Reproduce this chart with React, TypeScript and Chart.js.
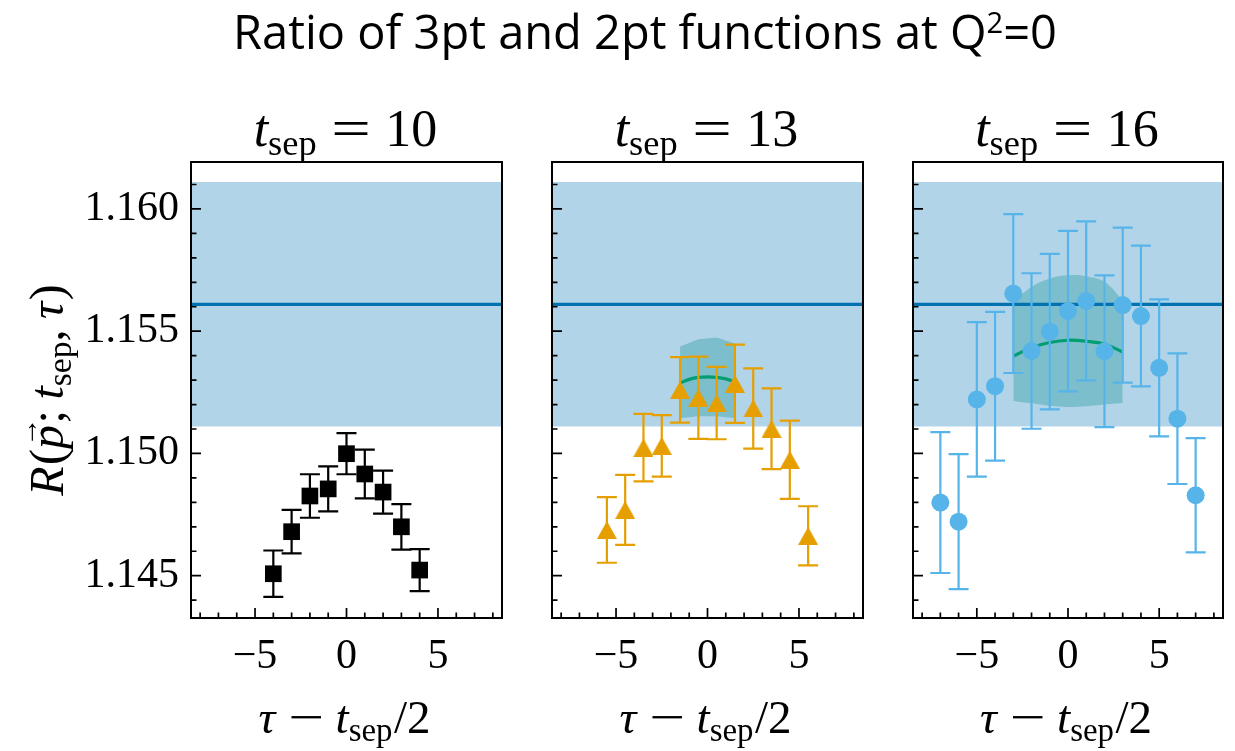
import { useEffect, useRef } from "react";
import { Chart, registerables } from "chart.js";

Chart.register(...registerables);

const SERIF = '"Liberation Serif", "DejaVu Serif", serif';

// Shared axis limits
const Y_MIN = 1.14327;
const Y_MAX = 1.16192;
const X_MIN = -8.5;
const X_MAX = 8.5;

const yTickValues = [1.145, 1.15, 1.155, 1.16];
const yTickLabels = ["1.145", "1.150", "1.155", "1.160"];
const xTickValues = [-5, 0, 5];
const xTickLabels = ["\u22125", "0", "5"];

// Plateau fit result (band = mean +/- error)
const plateauMean = 1.1561;
const plateauErr = 0.005;

// t_sep = 10
const tsep10Tau = [-4, -3, -2, -1, 0, 1, 2, 3, 4];
const tsep10Ratio = [1.14508, 1.1468, 1.14826, 1.14855, 1.14999, 1.14916, 1.14842, 1.147, 1.14523];
const tsep10Err = [0.00095, 0.00089, 0.00089, 0.00092, 0.00084, 0.001, 0.00088, 0.00093, 0.00086];

// t_sep = 13
const tsep13Tau = [-5.5, -4.5, -3.5, -2.5, -1.5, -0.5, 0.5, 1.5, 2.5, 3.5, 4.5, 5.5];
const tsep13Ratio = [1.14687, 1.14769, 1.15024, 1.15031, 1.1526, 1.15228, 1.15206, 1.15285, 1.15184, 1.15101, 1.14974, 1.14663];
const tsep13Err = [0.00134, 0.00143, 0.00138, 0.00126, 0.00134, 0.00168, 0.00148, 0.0016, 0.00164, 0.00165, 0.0016, 0.00121];

// t_sep = 16
const tsep16Tau = [-7, -6, -5, -4, -3, -2, -1, 0, 1, 2, 3, 4, 5, 6, 7];
const tsep16Ratio = [1.14799, 1.14721, 1.15221, 1.15275, 1.15654, 1.15419, 1.15498, 1.15582, 1.15624, 1.15418, 1.15607, 1.15562, 1.1535, 1.15142, 1.14829];
const tsep16Err = [0.00288, 0.00276, 0.00316, 0.00304, 0.00325, 0.00318, 0.00318, 0.00328, 0.00325, 0.0031, 0.00317, 0.00288, 0.0028, 0.00267, 0.00234];

// Two-state fit curves and their error bands
const fit13BandTau = [-1.5, -0.5, 0.5, 1.5];
const fit13Upper = [1.15437, 1.15467, 1.15474, 1.1545];
const fit13Lower = [1.15144, 1.15152, 1.15152, 1.15144];
const fit13CurveTau = [-1.5, -1, -0.5, 0, 0.5, 1, 1.5];
const fit13Curve = [1.15288, 1.15303, 1.15311, 1.15313, 1.15311, 1.15305, 1.15293];

const fit16Tau = [-3, -2, -1, 0, 1, 2, 3];
const fit16Upper = [1.1562, 1.15681, 1.15716, 1.15729, 1.15725, 1.15702, 1.15627];
const fit16Lower = [1.15215, 1.15205, 1.15195, 1.1519, 1.15193, 1.152, 1.15206];
const fit16Curve = [1.15398, 1.15433, 1.15454, 1.15463, 1.15459, 1.15447, 1.15415];

const BLACK = "#000000";
const ORANGE = "#e69f00";
const SKY = "#56b4e9";
const PLATEAU_BLUE = "#0072b2";
const FIT_GREEN = "#009e73";

const toPoints = (xs: number[], ys: number[]) => xs.map((x, i) => ({ x, y: ys[i] }));

type Marker = "rect" | "triangle" | "circle";

type PanelSpec = {
  tsep: string;
  tau: number[];
  ratio: number[];
  err: number[];
  color: string;
  marker: Marker;
  bandTau?: number[];
  bandUpper?: number[];
  bandLower?: number[];
  bandTension?: number;
  curveTau?: number[];
  curve?: number[];
  showYTicks: boolean;
};

type Frame = { left: number; width: number; yAxisWidth: number; padRight: number };

const panels: PanelSpec[] = [
  { tsep: "10", tau: tsep10Tau, ratio: tsep10Ratio, err: tsep10Err, color: BLACK, marker: "rect", showYTicks: true },
  {
    tsep: "13", tau: tsep13Tau, ratio: tsep13Ratio, err: tsep13Err, color: ORANGE, marker: "triangle",
    bandTau: fit13BandTau, bandUpper: fit13Upper, bandLower: fit13Lower, bandTension: 0,
    curveTau: fit13CurveTau, curve: fit13Curve, showYTicks: false,
  },
  {
    tsep: "16", tau: tsep16Tau, ratio: tsep16Ratio, err: tsep16Err, color: SKY, marker: "circle",
    bandTau: fit16Tau, bandUpper: fit16Upper, bandLower: fit16Lower, bandTension: 0.4,
    curveTau: fit16Tau, curve: fit16Curve, showYTicks: false,
  },
];

const frames: Frame[] = [
  { left: 0, width: 520, yAxisWidth: 191, padRight: 18 },
  { left: 520, width: 360, yAxisWidth: 32, padRight: 17 },
  { left: 880, width: 355, yAxisWidth: 33, padRight: 12 },
];

const CANVAS_H = 751;
const PLOT_TOP = 162;
const X_AXIS_H = 133;

function triangleImage(color: string) {
  const c = document.createElement("canvas");
  c.width = 20;
  c.height = 18;
  const g = c.getContext("2d")!;
  g.fillStyle = color;
  g.beginPath();
  g.moveTo(10, 0);
  g.lineTo(20, 18);
  g.lineTo(0, 18);
  g.closePath();
  g.fill();
  return c;
}

// Vertical error bars with caps, drawn just beneath the marker dataset
const errorBarPlugin = {
  id: "errorBars",
  beforeDatasetDraw(chart: any, args: any) {
    const ds = chart.data.datasets[args.index];
    if (!ds.errorBars) return;
    const xs = chart.scales.x;
    const ys = chart.scales.y;
    const ctx = chart.ctx;
    ctx.save();
    ctx.strokeStyle = ds.errorBarColor;
    ctx.lineWidth = 2.2;
    ds.data.forEach((p: { x: number; y: number }, i: number) => {
      const e = ds.errorBars[i];
      const px = xs.getPixelForValue(p.x);
      const top = ys.getPixelForValue(p.y + e);
      const bot = ys.getPixelForValue(p.y - e);
      ctx.beginPath();
      ctx.moveTo(px, top);
      ctx.lineTo(px, bot);
      ctx.moveTo(px - 10, top);
      ctx.lineTo(px + 10, top);
      ctx.moveTo(px - 10, bot);
      ctx.lineTo(px + 10, bot);
      ctx.stroke();
    });
    ctx.restore();
  },
};

// Axes box with inward major/minor ticks on the left and bottom
const framePlugin = {
  id: "frameTicks",
  afterDatasetsDraw(chart: any) {
    const { ctx, chartArea } = chart;
    const xs = chart.scales.x;
    const ys = chart.scales.y;
    const { left, right, top, bottom } = chartArea;
    ctx.save();
    ctx.strokeStyle = "#000";
    ctx.lineWidth = 1.7;
    ctx.beginPath();
    for (let k = 1144; k <= 1161; k++) {
      const py = ys.getPixelForValue(k / 1000);
      if (py < top || py > bottom) continue;
      const len = k % 5 === 0 ? 10 : 5.5;
      ctx.moveTo(left, py);
      ctx.lineTo(left + len, py);
    }
    for (let k = -8; k <= 8; k++) {
      const px = xs.getPixelForValue(k);
      const len = k % 5 === 0 ? 10 : 5.5;
      ctx.moveTo(px, bottom);
      ctx.lineTo(px, bottom - len);
    }
    ctx.stroke();
    ctx.lineWidth = 2;
    ctx.strokeRect(left, top, right - left, bottom - top);
    ctx.restore();
  },
};

// A piece of mixed-style math text; sx widens a glyph horizontally
type Run = {
  text: string;
  size: number;
  italic?: boolean;
  dy?: number;
  before?: number;
  after?: number;
  arrow?: boolean;
  sx?: number;
};

const fontOf = (r: Run) => `${r.italic ? "italic " : ""}${r.size}px ${SERIF}`;

function runWidth(ctx: CanvasRenderingContext2D, r: Run) {
  ctx.font = fontOf(r);
  return ctx.measureText(r.text).width * (r.sx || 1);
}

function runsWidth(ctx: CanvasRenderingContext2D, runs: Run[]) {
  let w = 0;
  for (const r of runs) w += (r.before || 0) + runWidth(ctx, r) + (r.after || 0);
  return w;
}

function drawRuns(ctx: CanvasRenderingContext2D, runs: Run[], cx: number, baseline: number) {
  let x = cx - runsWidth(ctx, runs) / 2;
  ctx.textBaseline = "alphabetic";
  ctx.textAlign = "left";
  for (const r of runs) {
    x += r.before || 0;
    const w = runWidth(ctx, r);
    ctx.font = fontOf(r);
    ctx.save();
    ctx.translate(x, baseline + (r.dy || 0));
    ctx.scale(r.sx || 1, 1);
    ctx.fillText(r.text, 0, 0);
    ctx.restore();
    if (r.arrow) {
      const a = r.size * 0.6;
      ctx.font = `${a}px ${SERIF}`;
      const aw = ctx.measureText("\u2192").width;
      ctx.fillText("\u2192", x + w / 2 - aw / 2 + r.size * 0.1, baseline - r.size * 0.55);
    }
    x += w + (r.after || 0);
  }
}

// Panel title, x-axis label and (first panel only) y-axis label
const labelPlugin = {
  id: "panelText",
  afterDraw(chart: any, _args: any, opts: any) {
    const { ctx, chartArea } = chart;
    const cx = (chartArea.left + chartArea.right) / 2;
    ctx.save();
    ctx.fillStyle = "#000";
    const T = 52;
    drawRuns(ctx, [
      { text: "t", size: T, italic: true },
      { text: "sep", size: T * 0.7, dy: T * 0.17 },
      { text: "=", size: T, sx: 1.35, before: T * 0.28, after: T * 0.28 },
      { text: opts.tsep, size: T },
    ], cx - 1, 146);

    const L = 47;
    drawRuns(ctx, [
      { text: "\u03c4", size: L, italic: true, after: L * 0.04 },
      { text: "\u2212", size: L, sx: 1.35, before: L * 0.24, after: L * 0.24 },
      { text: "t", size: L, italic: true },
      { text: "sep", size: L * 0.7, dy: L * 0.17 },
      { text: "/2", size: L, before: L * 0.03 },
    ], cx - 2, 733);

    if (opts.yLabel) {
      const cy = (chartArea.top + chartArea.bottom) / 2;
      const Y = 48;
      ctx.translate(63, cy);
      ctx.rotate(-Math.PI / 2);
      drawRuns(ctx, [
        { text: "R", size: Y, italic: true, after: Y * 0.03 },
        { text: "(", size: Y },
        { text: "p", size: Y, italic: true, arrow: true, after: Y * 0.03 },
        { text: ";", size: Y, after: Y * 0.22 },
        { text: "t", size: Y, italic: true },
        { text: "sep", size: Y * 0.7, dy: Y * 0.17 },
        { text: ",", size: Y, after: Y * 0.22 },
        { text: "\u03c4", size: Y, italic: true, after: Y * 0.03 },
        { text: ")", size: Y },
      ], 0, 0);
    }
    ctx.restore();
  },
};

function Panel({ spec, frame }: { spec: PanelSpec; frame: Frame }) {
  const ref = useRef<HTMLCanvasElement | null>(null);

  useEffect(() => {
    if (!ref.current) return;
    const markerStyle: any = spec.marker === "triangle" ? triangleImage(spec.color) : spec.marker;
    const markerRadius = spec.marker === "rect" ? 11.8 : spec.marker === "circle" ? 9 : 10;

    const datasets: any[] = [
      {
        type: "scatter",
        data: toPoints(spec.tau, spec.ratio),
        pointStyle: markerStyle,
        pointRadius: markerRadius,
        backgroundColor: spec.color,
        borderWidth: 0,
        errorBars: spec.err,
        errorBarColor: spec.color,
        order: 0,
      },
    ];
    if (spec.curveTau && spec.curve) {
      datasets.push({
        type: "line",
        data: toPoints(spec.curveTau, spec.curve),
        showLine: true,
        borderColor: FIT_GREEN,
        borderWidth: 3.2,
        pointRadius: 0,
        tension: 0.4,
        fill: false,
        order: 1,
      });
    }
    datasets.push({
      type: "line",
      data: [{ x: X_MIN - 1, y: plateauMean }, { x: X_MAX + 1, y: plateauMean }],
      showLine: true,
      borderColor: PLATEAU_BLUE,
      borderWidth: 3.3,
      pointRadius: 0,
      fill: false,
      order: 2,
    });
    if (spec.bandTau && spec.bandUpper && spec.bandLower) {
      datasets.push(
        {
          type: "line",
          data: toPoints(spec.bandTau, spec.bandUpper),
          showLine: true,
          borderWidth: 0,
          borderColor: "rgba(0,0,0,0)",
          pointRadius: 0,
          tension: spec.bandTension,
          fill: "+1",
          backgroundColor: "rgba(0,140,138,0.3)",
          order: 3,
        },
        {
          type: "line",
          data: toPoints(spec.bandTau, spec.bandLower),
          showLine: true,
          borderWidth: 0,
          borderColor: "rgba(0,0,0,0)",
          pointRadius: 0,
          tension: spec.bandTension,
          fill: false,
          order: 4,
        }
      );
    }
    datasets.push(
      {
        type: "line",
        data: [{ x: X_MIN - 1, y: plateauMean + plateauErr }, { x: X_MAX + 1, y: plateauMean + plateauErr }],
        showLine: true,
        borderWidth: 0,
        borderColor: "rgba(0,0,0,0)",
        pointRadius: 0,
        fill: "+1",
        backgroundColor: "rgba(0,114,178,0.3)",
        order: 5,
      },
      {
        type: "line",
        data: [{ x: X_MIN - 1, y: plateauMean - plateauErr }, { x: X_MAX + 1, y: plateauMean - plateauErr }],
        showLine: true,
        borderWidth: 0,
        borderColor: "rgba(0,0,0,0)",
        pointRadius: 0,
        fill: false,
        order: 6,
      }
    );

    const chart = new Chart(ref.current, {
      type: "scatter",
      data: { datasets },
      plugins: [errorBarPlugin, framePlugin, labelPlugin],
      options: {
        responsive: false,
        animation: false,
        devicePixelRatio: 1,
        layout: { padding: { top: PLOT_TOP, right: frame.padRight, bottom: 0, left: 0 } },
        plugins: {
          legend: { display: false },
          tooltip: { enabled: false },
          title: { display: false },
          panelText: { tsep: spec.tsep, yLabel: spec.showYTicks },
        } as any,
        scales: {
          x: {
            type: "linear",
            min: X_MIN,
            max: X_MAX,
            afterBuildTicks: (s: any) => {
              s.ticks = xTickValues.map((v) => ({ value: v }));
            },
            afterFit: (s: any) => {
              s.height = X_AXIS_H;
            },
            grid: { display: false, drawTicks: false },
            border: { display: false },
            ticks: {
              font: { family: SERIF, size: 42 },
              color: "#000",
              padding: 14,
              maxRotation: 0,
              autoSkip: false,
              callback: (_v: any, i: number) => xTickLabels[i],
            },
          },
          y: {
            type: "linear",
            min: Y_MIN,
            max: Y_MAX,
            afterBuildTicks: (s: any) => {
              s.ticks = yTickValues.map((v) => ({ value: v }));
            },
            afterFit: (s: any) => {
              s.width = frame.yAxisWidth;
            },
            grid: { display: false, drawTicks: false },
            border: { display: false },
            ticks: {
              display: spec.showYTicks,
              font: { family: SERIF, size: 42 },
              color: "#000",
              padding: 12,
              autoSkip: false,
              callback: (_v: any, i: number) => yTickLabels[i],
            },
          },
        },
      } as any,
    });
    return () => chart.destroy();
  }, [spec, frame]);

  return (
    <canvas
      ref={ref}
      width={frame.width}
      height={CANVAS_H}
      style={{ position: "absolute", left: frame.left, top: 0, width: frame.width, height: CANVAS_H }}
    />
  );
}

export default function App() {
  return (
    <div
      style={{
        position: "absolute",
        left: 0,
        top: 0,
        width: 1235,
        height: 751,
        background: "#ffffff",
        overflow: "hidden",
      }}
    >
      {panels.map((p, i) => (
        <Panel key={p.tsep} spec={p} frame={frames[i]} />
      ))}
      <div
        style={{
          position: "absolute",
          left: 0,
          top: 8,
          width: 1290,
          textAlign: "center",
          fontFamily: '"Open Sans", sans-serif',
          fontSize: 47,
          lineHeight: "47px",
          color: "#000",
          whiteSpace: "nowrap",
        }}
      >
        Ratio of 3pt and 2pt functions at Q
        <span style={{ fontSize: "0.62em", position: "relative", top: "-0.55em" }}>2</span>=0
      </div>
    </div>
  );
}
